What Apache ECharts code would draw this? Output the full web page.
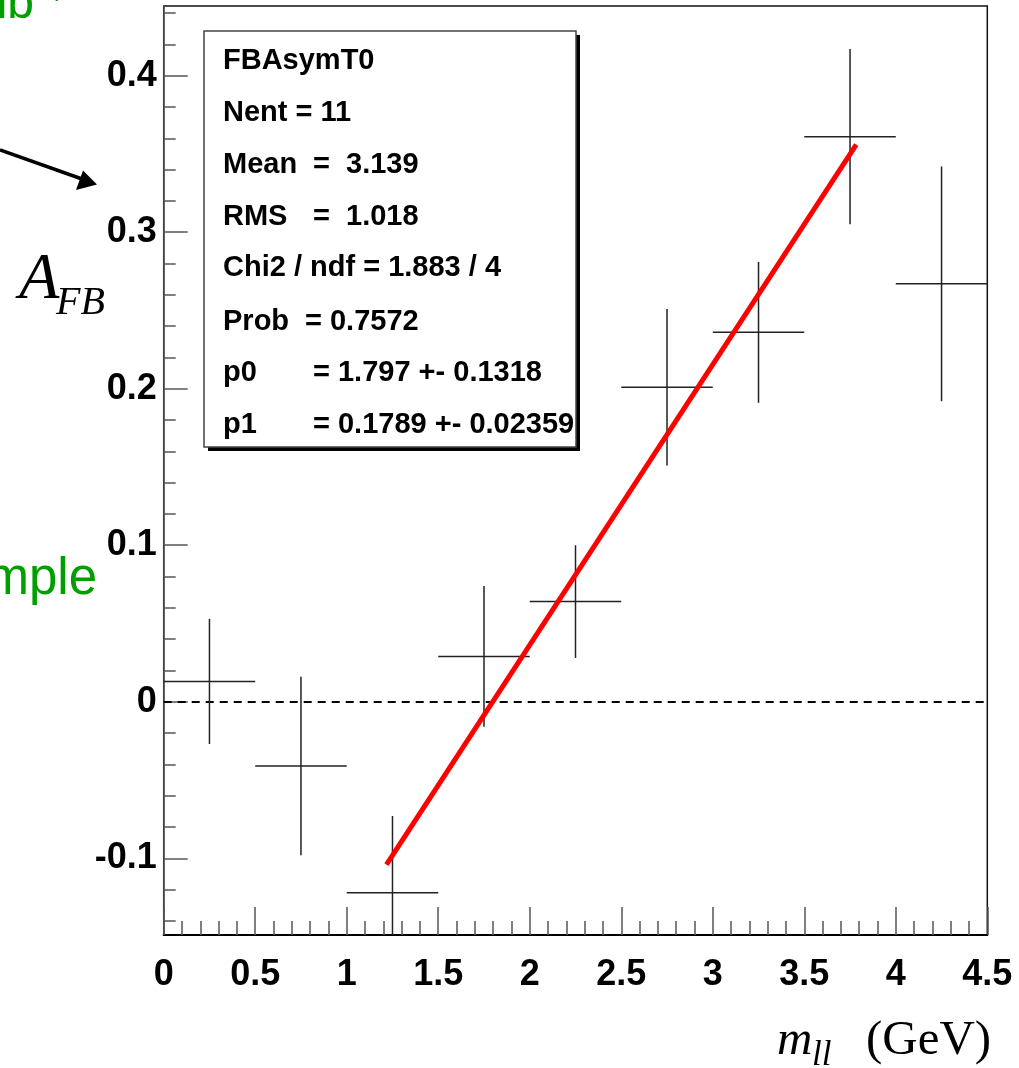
<!DOCTYPE html>
<html>
<head>
<meta charset="utf-8">
<script src="https://cdn.jsdelivr.net/npm/echarts@6/dist/echarts.min.js"></script>
<style>
html,body{margin:0;padding:0;background:#fff;}
#c{width:1019px;height:1068px;}
</style>
</head>
<body>
<div id="c"></div>
<script>
// ---- data ----
var binCenters = [0.25, 0.75, 1.25, 1.75, 2.25, 2.75, 3.25, 3.75, 4.25];
var binValues  = [0.013, -0.041, -0.122, 0.029, 0.064, 0.201, 0.236, 0.361, 0.267];
var binErrors  = [0.040, 0.057, 0.049, 0.045, 0.036, 0.050, 0.045, 0.056, 0.075];
var binHalfWidth = 0.25;
var fitX = [1.217, 3.784];
var fitY = [-0.104, 0.356];
var xTicks = [0, 0.5, 1, 1.5, 2, 2.5, 3, 3.5, 4, 4.5];
var yTicks = [-0.1, 0, 0.1, 0.2, 0.3, 0.4];
var yMinorTicks = [-0.14, -0.12, -0.08, -0.06, -0.04, -0.02, 0.02, 0.04, 0.06, 0.08,
                   0.12, 0.14, 0.16, 0.18, 0.22, 0.24, 0.26, 0.28, 0.32, 0.34, 0.36, 0.38, 0.42, 0.44];
var statsTitle = 'FBAsymT0';
var statsLabels = ['Nent = 11', 'Mean', 'RMS', 'Chi2 / ndf = 1.883 / 4', 'Prob', 'p0', 'p1'];
var statsValues = ['', '=  3.139', '=  1.018', '', '= 0.7572', '= 1.797 +- 0.1318', '= 0.1789 +- 0.02359'];
var xMin = 0, xMax = 4.5, yMin = -0.149, yMax = 0.4445;

// ---- chart ----
var chart = echarts.init(document.getElementById('c'), null, {renderer: 'canvas'});

var barData = binCenters.map(function (x, i) { return [x, binValues[i], binErrors[i]]; });
var fitData = fitX.map(function (x, i) { return [x, fitY[i]]; });

var SANS = '"Liberation Sans", Arial, sans-serif';
var SERIF = '"Liberation Serif", "Times New Roman", serif';
var GREEN = '#009f00';

function txt(text, x, baseline, fs, family, opts) {
  opts = opts || {};
  var ratio = family === SERIF ? 0.3375 : 0.3465;
  var font = (opts.italic ? 'italic ' : '') + (opts.bold ? 'bold ' : '') + fs + 'px ' + family;
  return {
    type: 'text', z: 100, silent: true,
    style: {
      text: text, x: x, y: baseline - ratio * fs, font: font,
      fill: opts.color || '#000',
      align: opts.align || 'left', textAlign: opts.align || 'left',
      verticalAlign: 'middle', textVerticalAlign: 'middle'
    }
  };
}

var graphics = [];
// stats box shadow + box
graphics.push({type: 'rect', z: 90, silent: true, shape: {x: 208, y: 35, width: 372, height: 416}, style: {fill: '#000'}});
graphics.push({type: 'rect', z: 91, silent: true, shape: {x: 204, y: 31, width: 372, height: 416}, style: {fill: '#fff', stroke: '#444', lineWidth: 1.5}});
var rowBase = [70.7, 123.3, 175, 226.7, 278.3, 331.7, 383.3, 435];
var SFS = 29;
graphics.push(txt(statsTitle, 223, rowBase[0], SFS, SANS, {bold: true}));
var valX = [0, 313, 313, 0, 305, 313, 313];
statsLabels.forEach(function (lab, i) {
  graphics.push(txt(lab, 223, rowBase[i + 1], SFS, SANS, {bold: true}));
  if (statsValues[i]) graphics.push(txt(statsValues[i], valX[i], rowBase[i + 1], SFS, SANS, {bold: true}));
});
// y axis title A_FB
graphics.push(txt('A', 19, 303, 66, SERIF, {italic: true}));
graphics.push(txt('FB', 56, 317, 40, SERIF, {italic: true}));
// x axis title m_ll (GeV)
graphics.push(txt('m', 777, 1058, 49, SERIF, {italic: true}));
graphics.push(txt('ll', 812, 1068, 35, SERIF, {italic: true}));
graphics.push(txt('(GeV)', 866, 1058, 49, SERIF));
// green side texts (cut off in the reference)
graphics.push(txt('lb', 34, 21, 48, SANS, {color: GREEN, align: 'right'}));
graphics.push(txt('+', 48, 6, 30, SANS, {color: GREEN}));
graphics.push(txt('mple', 97, 598, 51, SANS, {color: GREEN, align: 'right'}));
// arrow
graphics.push({type: 'line', z: 100, silent: true, shape: {x1: 0, y1: 150, x2: 82, y2: 179}, style: {stroke: '#000', lineWidth: 3.5}});
graphics.push({type: 'polygon', z: 100, silent: true, shape: {points: [[97, 184.5], [76, 190], [83, 170.5]]}, style: {fill: '#000'}});

var option = {
  animation: false,
  backgroundColor: '#fff',
  grid: {left: 163.7, top: 6, right: 31.7, bottom: 133, show: true, borderColor: '#111', borderWidth: 1.5, backgroundColor: 'transparent'},
  xAxis: {
    type: 'value', min: xMin, max: xMax, interval: 0.5,
    axisLine: {show: true, onZero: false, lineStyle: {color: '#000', width: 2}},
    axisTick: {show: true, inside: true, length: 28, lineStyle: {color: '#555', width: 1.5}},
    minorTick: {show: true, splitNumber: 5, length: 14, lineStyle: {color: '#555', width: 1.5}},
    splitLine: {show: false}, minorSplitLine: {show: false},
    axisLabel: {show: true, margin: 22, color: '#000', fontSize: 36, fontWeight: 'bold', fontFamily: SANS,
      customValues: xTicks, formatter: function (v) { return String(+v.toFixed(2)); }}
  },
  yAxis: [{
    type: 'value', min: yMin, max: yMax,
    axisLine: {show: true, onZero: false, lineStyle: {color: '#555', width: 1.5}},
    axisTick: {show: true, inside: true, length: 24, customValues: yTicks, lineStyle: {color: '#555', width: 1.5}},
    splitLine: {show: false},
    axisLabel: {show: true, margin: 7, color: '#000', fontSize: 36, fontWeight: 'bold', fontFamily: SANS,
      padding: [6, 0, 0, 0],
      customValues: yTicks, formatter: function (v) { return String(+v.toFixed(2)); }}
  }, {
    type: 'value', min: yMin, max: yMax, position: 'left',
    axisLine: {show: false},
    axisTick: {show: true, inside: true, length: 12, customValues: yMinorTicks, lineStyle: {color: '#555', width: 1.5}},
    splitLine: {show: false},
    axisLabel: {show: false, customValues: yMinorTicks}
  }],
  series: [{
    type: 'custom', name: 'bins', xAxisIndex: 0, yAxisIndex: 0, clip: true, z: 5,
    data: barData,
    encode: {x: 0, y: 1},
    renderItem: function (params, api) {
      var x = api.value(0), y = api.value(1), e = api.value(2);
      var pL = api.coord([x - binHalfWidth, y]);
      var pR = api.coord([x + binHalfWidth, y]);
      var pT = api.coord([x, y + e]);
      var pB = api.coord([x, y - e]);
      var st = {stroke: '#222', lineWidth: 1.5};
      return {type: 'group', children: [
        {type: 'line', shape: {x1: pL[0], y1: pL[1], x2: pR[0], y2: pR[1]}, style: st},
        {type: 'line', shape: {x1: pT[0], y1: pT[1], x2: pB[0], y2: pB[1]}, style: st}
      ]};
    },
    markLine: {
      silent: true, symbol: 'none', label: {show: false},
      lineStyle: {color: '#000', type: [8, 6], width: 2},
      data: [{yAxis: 0}]
    }
  }, {
    type: 'line', name: 'fit', xAxisIndex: 0, yAxisIndex: 0, z: 10,
    data: fitData, showSymbol: false, symbol: 'none',
    lineStyle: {color: '#ff0000', width: 5}
  }],
  graphic: graphics
};
chart.setOption(option);
</script>
</body>
</html>
